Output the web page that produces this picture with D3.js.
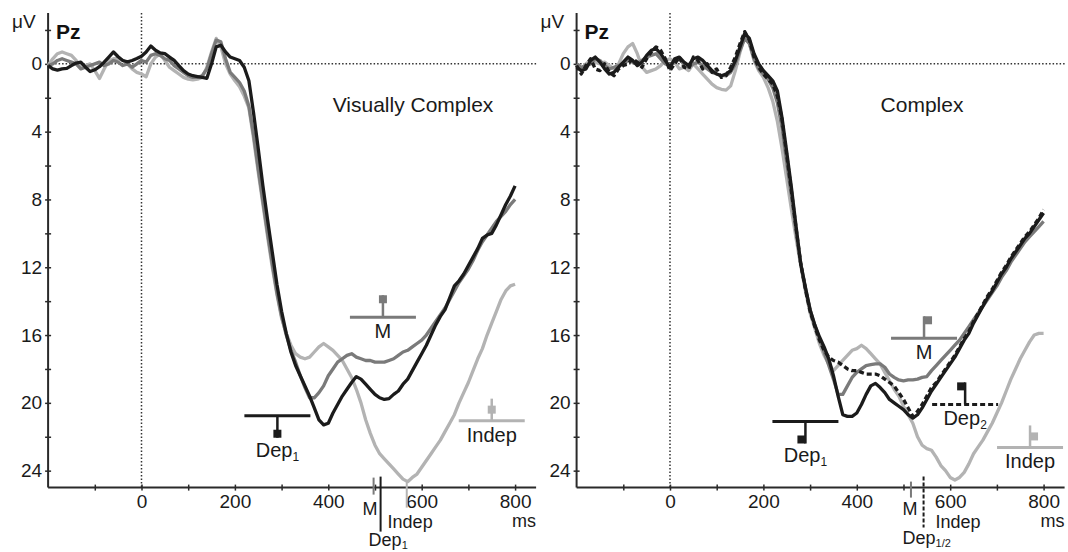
<!DOCTYPE html>
<html lang="en">
<head>
<meta charset="UTF-8">
<title>ERP Pz</title>
<script src="https://d3js.org/d3.v7.min.js"></script>
<style>
  body { margin: 0; background: #fff; }
  svg { display: block; font-family: "Liberation Sans", Arial, sans-serif; }
</style>
</head>
<body>
<div id="chart"></div>
<script>
// sample times (ms), every 10 ms from -200 to 800
const times = d3.range(-200, 801, 10);

// left panel: Visually Complex
const leftDep1 = [
  0.1, 0.3, 0.37, 0.3, 0.27, 0.1, -0.05, -0.1, 0.2, 0.45,
  0.35, 0.17, -0.1, -0.4, -0.7, -0.42, -0.2, -0.12, -0.2, -0.32,
  -0.45, -0.7, -1.05, -0.8, -0.65, -0.6, -0.4, -0.2, 0.1, 0.4,
  0.6, 0.7, 0.75, 0.8, 0.85, 0.0, -1.0, -1.1, -0.7, -0.4,
  -0.3, -0.2, 0.2, 1.0, 2.9, 5.0, 7.2, 9.2, 11.1, 13.0,
  14.6, 15.9, 17.0, 17.8, 18.4, 19.0, 19.6, 20.3, 21.0, 21.3,
  21.2, 20.6, 20.1, 19.6, 19.2, 18.8, 18.45, 18.6, 18.9, 19.2,
  19.5, 19.7, 19.8, 19.75, 19.5, 19.3, 18.9, 18.6, 18.1, 17.6,
  17.1, 16.6, 16.0, 15.4, 14.9, 14.5, 13.8, 13.1, 12.8, 12.4,
  11.9, 11.4, 10.9, 10.3, 10.1, 10.0, 9.5, 8.9, 8.3, 7.8,
  7.2
];
const leftM = [
  0.1, 0.0, -0.2, -0.3, -0.2, -0.1, 0.0, 0.3, 0.2, 0.1,
  0.0, -0.1, 0.1, 0.0, -0.2, -0.1, 0.1, 0.0, 0.2, 0.0,
  -0.2, -0.1, -0.5, -0.6, -0.5, -0.3, -0.2, 0.1, 0.3, 0.5,
  0.7, 0.8, 0.8, 0.7, 0.3, -0.6, -1.4, -1.3, -0.3, 0.5,
  0.8, 1.1, 1.6, 2.5, 4.2, 6.2, 8.1, 10.0, 11.8, 13.5,
  14.9, 16.0, 16.9, 17.6, 18.4, 19.1, 19.7, 19.7, 19.4, 19.0,
  18.4, 18.0, 17.6, 17.4, 17.2, 17.1, 17.3, 17.4, 17.5, 17.5,
  17.6, 17.6, 17.6, 17.5, 17.4, 17.2, 17.0, 16.9, 16.7, 16.5,
  16.3, 16.0, 15.6, 15.2, 14.8, 14.4, 13.9, 13.4, 12.9, 12.5,
  12.1, 11.6, 11.0, 10.5, 10.1, 9.7, 9.3, 9.0, 8.7, 8.3,
  8.0
];
const leftIndep = [
  0.1, -0.3, -0.6, -0.7, -0.6, -0.5, -0.2, 0.2, 0.1, 0.0,
  0.4, 0.86, 0.3, -0.2, -0.3, -0.3, -0.2, 0.0, 0.3, 0.5,
  0.6, 0.76, 0.0, -0.4, -0.6, -0.2, 0.2, 0.4, 0.6, 0.8,
  0.9, 0.95, 0.9, 0.8, 0.2, -0.7, -1.5, -1.0, 0.0, 0.6,
  1.0, 1.35, 1.9, 2.6, 4.4, 6.4, 8.3, 10.2, 12.0, 13.6,
  15.0, 15.9, 16.6, 17.1, 17.3, 17.4, 17.3, 17.0, 16.7, 16.5,
  16.7, 16.9, 17.2, 17.5, 18.0, 18.5, 19.2, 20.0, 21.0, 21.8,
  22.5, 23.0, 23.3, 23.6, 23.9, 24.2, 24.5, 24.65, 24.4, 24.2,
  23.8, 23.4, 23.0, 22.6, 22.2, 21.7, 21.2, 20.7, 20.0, 19.4,
  18.8, 18.1, 17.4, 16.8, 16.0, 15.3, 14.6, 13.9, 13.4, 13.1,
  13.0
];

// right panel: Complex
const rightDep1 = [
  0.2, 0.4, 0.3, -0.2, -0.4, -0.1, 0.3, 0.6, 0.5, 0.2,
  -0.1, -0.4, -0.2, 0.1, -0.1, -0.5, -0.8, -0.9, -0.6, -0.2,
  0.2, -0.3, -0.4, -0.1, 0.1, -0.3, -0.4, -0.2, 0.1, 0.4,
  0.6, 0.7, 0.6, 0.4, -0.2, -1.0, -1.8, -1.5, -0.6, 0.0,
  0.4, 0.7, 1.0, 1.6, 3.2, 5.2, 7.3, 9.6, 11.8, 13.2,
  14.5, 15.4, 16.1, 16.7, 17.4, 18.4, 19.6, 20.7, 20.8, 20.8,
  20.6, 20.1, 19.5, 19.0, 18.85, 19.1, 19.4, 19.8, 20.0, 20.2,
  20.4, 20.7, 20.9, 20.7, 20.3, 19.8, 19.3, 18.9, 18.5, 18.1,
  17.7, 17.3, 16.8, 16.3, 15.9, 15.3, 14.8, 14.3, 13.8, 13.4,
  12.9, 12.4, 12.0, 11.5, 11.1, 10.7, 10.3, 10.0, 9.6, 9.2,
  8.8
];
const rightDep2 = [
  0.1, 0.6, 0.1, -0.3, 0.3, 0.4, 0.0, 0.5, 0.7, 0.3,
  0.1, 0.0, -0.3, -0.1, 0.2, -0.3, -0.7, -1.0, -0.8, -0.3,
  0.4, 0.0, -0.4, 0.2, 0.3, -0.4, -0.2, 0.3, 0.0, 0.5,
  0.3, 0.8, 0.7, 0.2, -0.4, -1.2, -1.9, -1.4, -0.4, 0.2,
  0.6, 0.9, 1.2, 1.9, 3.3, 5.4, 7.5, 9.7, 11.8, 13.3,
  14.6, 15.5, 16.3, 16.9, 17.3, 17.5, 17.6, 17.8, 18.0, 18.1,
  18.1, 18.2, 18.3, 18.3, 18.3, 18.4, 18.6, 18.8, 19.0, 19.4,
  19.8, 20.3, 20.8, 20.5, 20.1, 19.6, 19.1, 18.8, 18.4, 18.0,
  17.6, 17.2, 16.7, 16.2, 15.8, 15.2, 14.7, 14.2, 13.7, 13.3,
  12.8, 12.3, 11.9, 11.4, 11.0, 10.6, 10.2, 9.9, 9.5, 9.1,
  8.6
];
const rightM = [
  0.0, 0.2, 0.1, 0.0, -0.3, -0.2, 0.1, 0.3, 0.2, 0.1,
  0.0, -0.2, -0.1, 0.0, -0.2, -0.4, -0.5, -0.6, -0.3, 0.0,
  0.1, -0.1, -0.3, 0.0, 0.2, 0.0, -0.1, 0.1, 0.3, 0.5,
  0.6, 0.7, 0.7, 0.5, 0.0, -0.8, -1.5, -1.2, -0.3, 0.3,
  0.6, 0.9, 1.4, 2.3, 3.8, 5.8, 7.8, 9.9, 11.8, 13.2,
  14.5, 15.4, 16.2, 17.0, 17.8, 18.6, 19.5, 19.5, 19.0, 18.5,
  18.2, 18.0, 17.8, 17.75, 17.7, 17.7, 17.9, 18.3, 18.5, 18.65,
  18.7, 18.65, 18.65, 18.6, 18.5, 18.45, 18.1, 17.8, 17.5, 17.2,
  16.9, 16.6, 16.3, 15.9, 15.5, 15.1, 14.7, 14.3, 13.9, 13.5,
  13.1, 12.6, 12.2, 11.7, 11.3, 10.9, 10.5, 10.2, 9.9, 9.6,
  9.3
];
const rightIndep = [
  0.2, 0.3, 0.0, -0.2, -0.1, 0.0, -0.1, 0.1, 0.3, 0.0,
  -0.6, -1.0, -1.2, -0.6, 0.2, 0.5, 0.4, 0.3, 0.1, -0.2,
  -0.3, -0.1, 0.3, 0.2, 0.4, 0.0, 0.3, 0.6, 0.9, 1.2,
  1.4, 1.5, 1.55, 1.3, 0.4, -0.7, -1.6, -1.2, -0.2, 0.4,
  0.8, 1.4, 2.2, 3.4, 5.0, 6.8, 8.6, 10.3, 11.9, 13.4,
  14.7, 15.6, 16.5, 17.2, 17.7, 18.1, 17.8, 17.5, 17.2, 16.9,
  16.8, 16.6, 16.8, 17.1, 17.4, 17.7, 18.2, 18.7, 19.2, 19.6,
  20.2, 20.7, 21.2, 22.0, 22.5, 22.7, 22.8, 23.2, 23.7, 24.0,
  24.4, 24.55, 24.4, 24.1, 23.6, 23.0, 22.6, 22.2, 21.7, 21.2,
  20.6, 20.0, 19.3, 18.6, 18.0, 17.4, 16.9, 16.4, 16.0, 15.9,
  15.9
];

// axis ticks
const yTicks = d3.range(-2, 25, 2);      // labelled every 4
const xTicks = d3.range(-100, 801, 100); // labelled every 200

const BLACK = "#1b1b1b", MID = "#7a7a7a", LIGHT = "#b3b3b3";

const width = 1068, height = 552;
const svg = d3.select("#chart").append("svg")
  .attr("width", width).attr("height", height)
  .attr("viewBox", [0, 0, width, height]);
svg.append("rect").attr("width", width).attr("height", height).attr("fill", "#fff");

const y = d3.scaleLinear().domain([-3, 25]).range([13, 487.6]);

function drawPanel(cfg) {
  const x = d3.scaleLinear().domain([-200, 845]).range(cfg.range);
  const g = svg.append("g");
  const x0 = x(-200), xEnd = x(845), yBase = y(25);

  // dotted zero lines
  g.append("line").attr("x1", x(0)).attr("x2", x(0)).attr("y1", y(-3)).attr("y2", yBase)
    .attr("stroke", "#333").attr("stroke-width", 1.5).attr("stroke-dasharray", "1.5,2");
  g.append("line").attr("x1", x0).attr("x2", xEnd).attr("y1", y(0)).attr("y2", y(0))
    .attr("stroke", "#333").attr("stroke-width", 1.5).attr("stroke-dasharray", "1.5,2");

  // y axis
  const ya = g.append("g").attr("transform", `translate(${x0},0)`)
    .call(d3.axisLeft(y).tickValues(yTicks).tickSize(3).tickPadding(3)
      .tickFormat(d => d % 4 === 0 ? d : ""));
  ya.select(".domain").attr("d", `M0,${y(-3)}V${yBase}`);
  // x axis
  const xa = g.append("g").attr("transform", `translate(0,${yBase})`)
    .call(d3.axisBottom(x).tickValues(xTicks).tickSize(3).tickPadding(4)
      .tickFormat(d => d % 200 === 0 ? d : ""));
  xa.select(".domain").attr("d", `M${x0},0H${xEnd}`);
  [ya, xa].forEach(a => {
    a.select(".domain").attr("stroke", "#2a2a2a").attr("stroke-width", 2);
    a.selectAll(".tick line").attr("stroke", "#2a2a2a").attr("stroke-width", 1.5);
    a.selectAll(".tick text").attr("fill", "#1a1a1a").style("font-size", "19px")
      .style("font-family", "Liberation Sans, Arial, sans-serif");
  });
  ya.selectAll(".tick line").attr("x1", 3);
  xa.selectAll(".tick line").attr("y1", -3);

  g.append("text").attr("x", x0 - 36).attr("y", 28).attr("font-size", 19).attr("fill", "#1a1a1a").text("μV");
  g.append("text").attr("x", x0 + 8).attr("y", 39).attr("font-size", 21).attr("font-weight", "bold")
    .attr("fill", "#111").text("Pz");
  g.append("text").attr("x", xEnd).attr("y", 527).attr("text-anchor", "end")
    .attr("font-size", 18).attr("fill", "#1a1a1a").text("ms");
  g.append("text").attr("x", cfg.titleX).attr("y", 112).attr("text-anchor", "middle")
    .attr("font-size", 21).attr("fill", "#1a1a1a").text(cfg.title);

  // waveforms
  const line = d3.line().x((d, i) => x(times[i])).y(d => y(d));
  cfg.series.forEach(s => {
    g.append("path").datum(s.values)
      .attr("d", line).attr("fill", "none")
      .attr("stroke", s.color).attr("stroke-width", 3.3)
      .attr("stroke-linejoin", "round")
      .attr("stroke-dasharray", s.dash ? "5,3" : null);
  });

  // T-shaped condition markers
  cfg.marks.forEach(m => {
    const cx = x(m.t), cy = y(m.v);
    const mg = g.append("g");
    mg.append("line").attr("x1", cx - 33).attr("x2", cx + 33).attr("y1", cy).attr("y2", cy)
      .attr("stroke", m.color).attr("stroke-width", 3)
      .attr("stroke-dasharray", m.dash ? "5,3" : null);
    const dir = m.dir === "down" ? 1 : -1;
    const tip = cy + dir * 22;
    mg.append("line").attr("x1", cx).attr("x2", cx).attr("y1", cy).attr("y2", tip)
      .attr("stroke", m.color).attr("stroke-width", 2.5);
    const sqY = dir === 1 ? tip - 8 - m.off : tip + m.off;
    const sqX = m.side === 0 ? cx - 4 : (m.side < 0 ? cx - 8 : cx);
    mg.append("rect").attr("x", sqX).attr("y", sqY).attr("width", 8).attr("height", 8).attr("fill", m.color);
    const t = mg.append("text").attr("x", cx).attr("y", cy + (dir === 1 ? 41 : 21))
      .attr("text-anchor", "middle").attr("font-size", 20).attr("fill", "#1a1a1a").text(m.label);
    if (m.sub) t.append("tspan").attr("font-size", 12).attr("dy", 4).text(m.sub);
  });

  // latency lines on the time axis
  cfg.lat.forEach(l => {
    g.append("line").attr("x1", x(l.t)).attr("x2", x(l.t))
      .attr("y1", yBase + l.y1).attr("y2", yBase + l.y2)
      .attr("stroke", l.color).attr("stroke-width", 2)
      .attr("stroke-dasharray", l.dash ? "4,2" : null);
  });
  cfg.latLabels.forEach(l => {
    const t = g.append("text").attr("x", x(l.t) + l.dx).attr("y", l.y)
      .attr("text-anchor", l.anchor).attr("font-size", 18).attr("fill", "#1a1a1a").text(l.label);
    if (l.sub) t.append("tspan").attr("font-size", 11).attr("dy", 3).text(l.sub);
  });
}

drawPanel({
  range: [48.1, 536.1],
  title: "Visually Complex", titleX: 413,
  series: [
    { values: leftIndep, color: LIGHT },
    { values: leftM, color: MID },
    { values: leftDep1, color: BLACK }
  ],
  marks: [
    { label: "Dep", sub: "1", t: 291, v: 20.76, color: BLACK, dir: "down", side: 0, off: 0 },
    { label: "M", t: 517, v: 14.95, color: MID, dir: "up", side: 0, off: 0 },
    { label: "Indep", t: 750, v: 21.05, color: LIGHT, dir: "up", side: 0, off: 7 }
  ],
  lat: [
    { t: 497, y1: -10, y2: 7, color: MID },
    { t: 512, y1: -11, y2: 44, color: BLACK },
    { t: 568, y1: -7, y2: 20, color: LIGHT }
  ],
  latLabels: [
    { label: "M", t: 512, dx: -3, y: 515, anchor: "end" },
    { label: "Indep", t: 512, dx: 7, y: 528, anchor: "start" },
    { label: "Dep", sub: "1", t: 512, dx: -12, y: 546, anchor: "start" }
  ]
});

drawPanel({
  range: [576.6, 1064.6],
  title: "Complex", titleX: 922,
  series: [
    { values: rightIndep, color: LIGHT },
    { values: rightM, color: MID },
    { values: rightDep1, color: BLACK },
    { values: rightDep2, color: BLACK, dash: true }
  ],
  marks: [
    { label: "Dep", sub: "1", t: 290, v: 21.1, color: BLACK, dir: "down", side: -1, off: 0 },
    { label: "M", t: 544, v: 16.19, color: MID, dir: "up", side: 1, off: 0 },
    { label: "Dep", sub: "2", t: 632, v: 20.09, color: BLACK, dash: true, dir: "up", side: -1, off: 0 },
    { label: "Indep", t: 771, v: 22.63, color: LIGHT, dir: "up", side: 1, off: 7 }
  ],
  lat: [
    { t: 516, y1: -6, y2: 10, color: MID },
    { t: 543, y1: -11, y2: 40, color: BLACK, dash: true }
  ],
  latLabels: [
    { label: "M", t: 543, dx: -6, y: 515, anchor: "end" },
    { label: "Indep", t: 543, dx: 12, y: 528, anchor: "start" },
    { label: "Dep", sub: "1/2", t: 543, dx: -21, y: 544, anchor: "start" }
  ]
});
</script>
</body>
</html>
